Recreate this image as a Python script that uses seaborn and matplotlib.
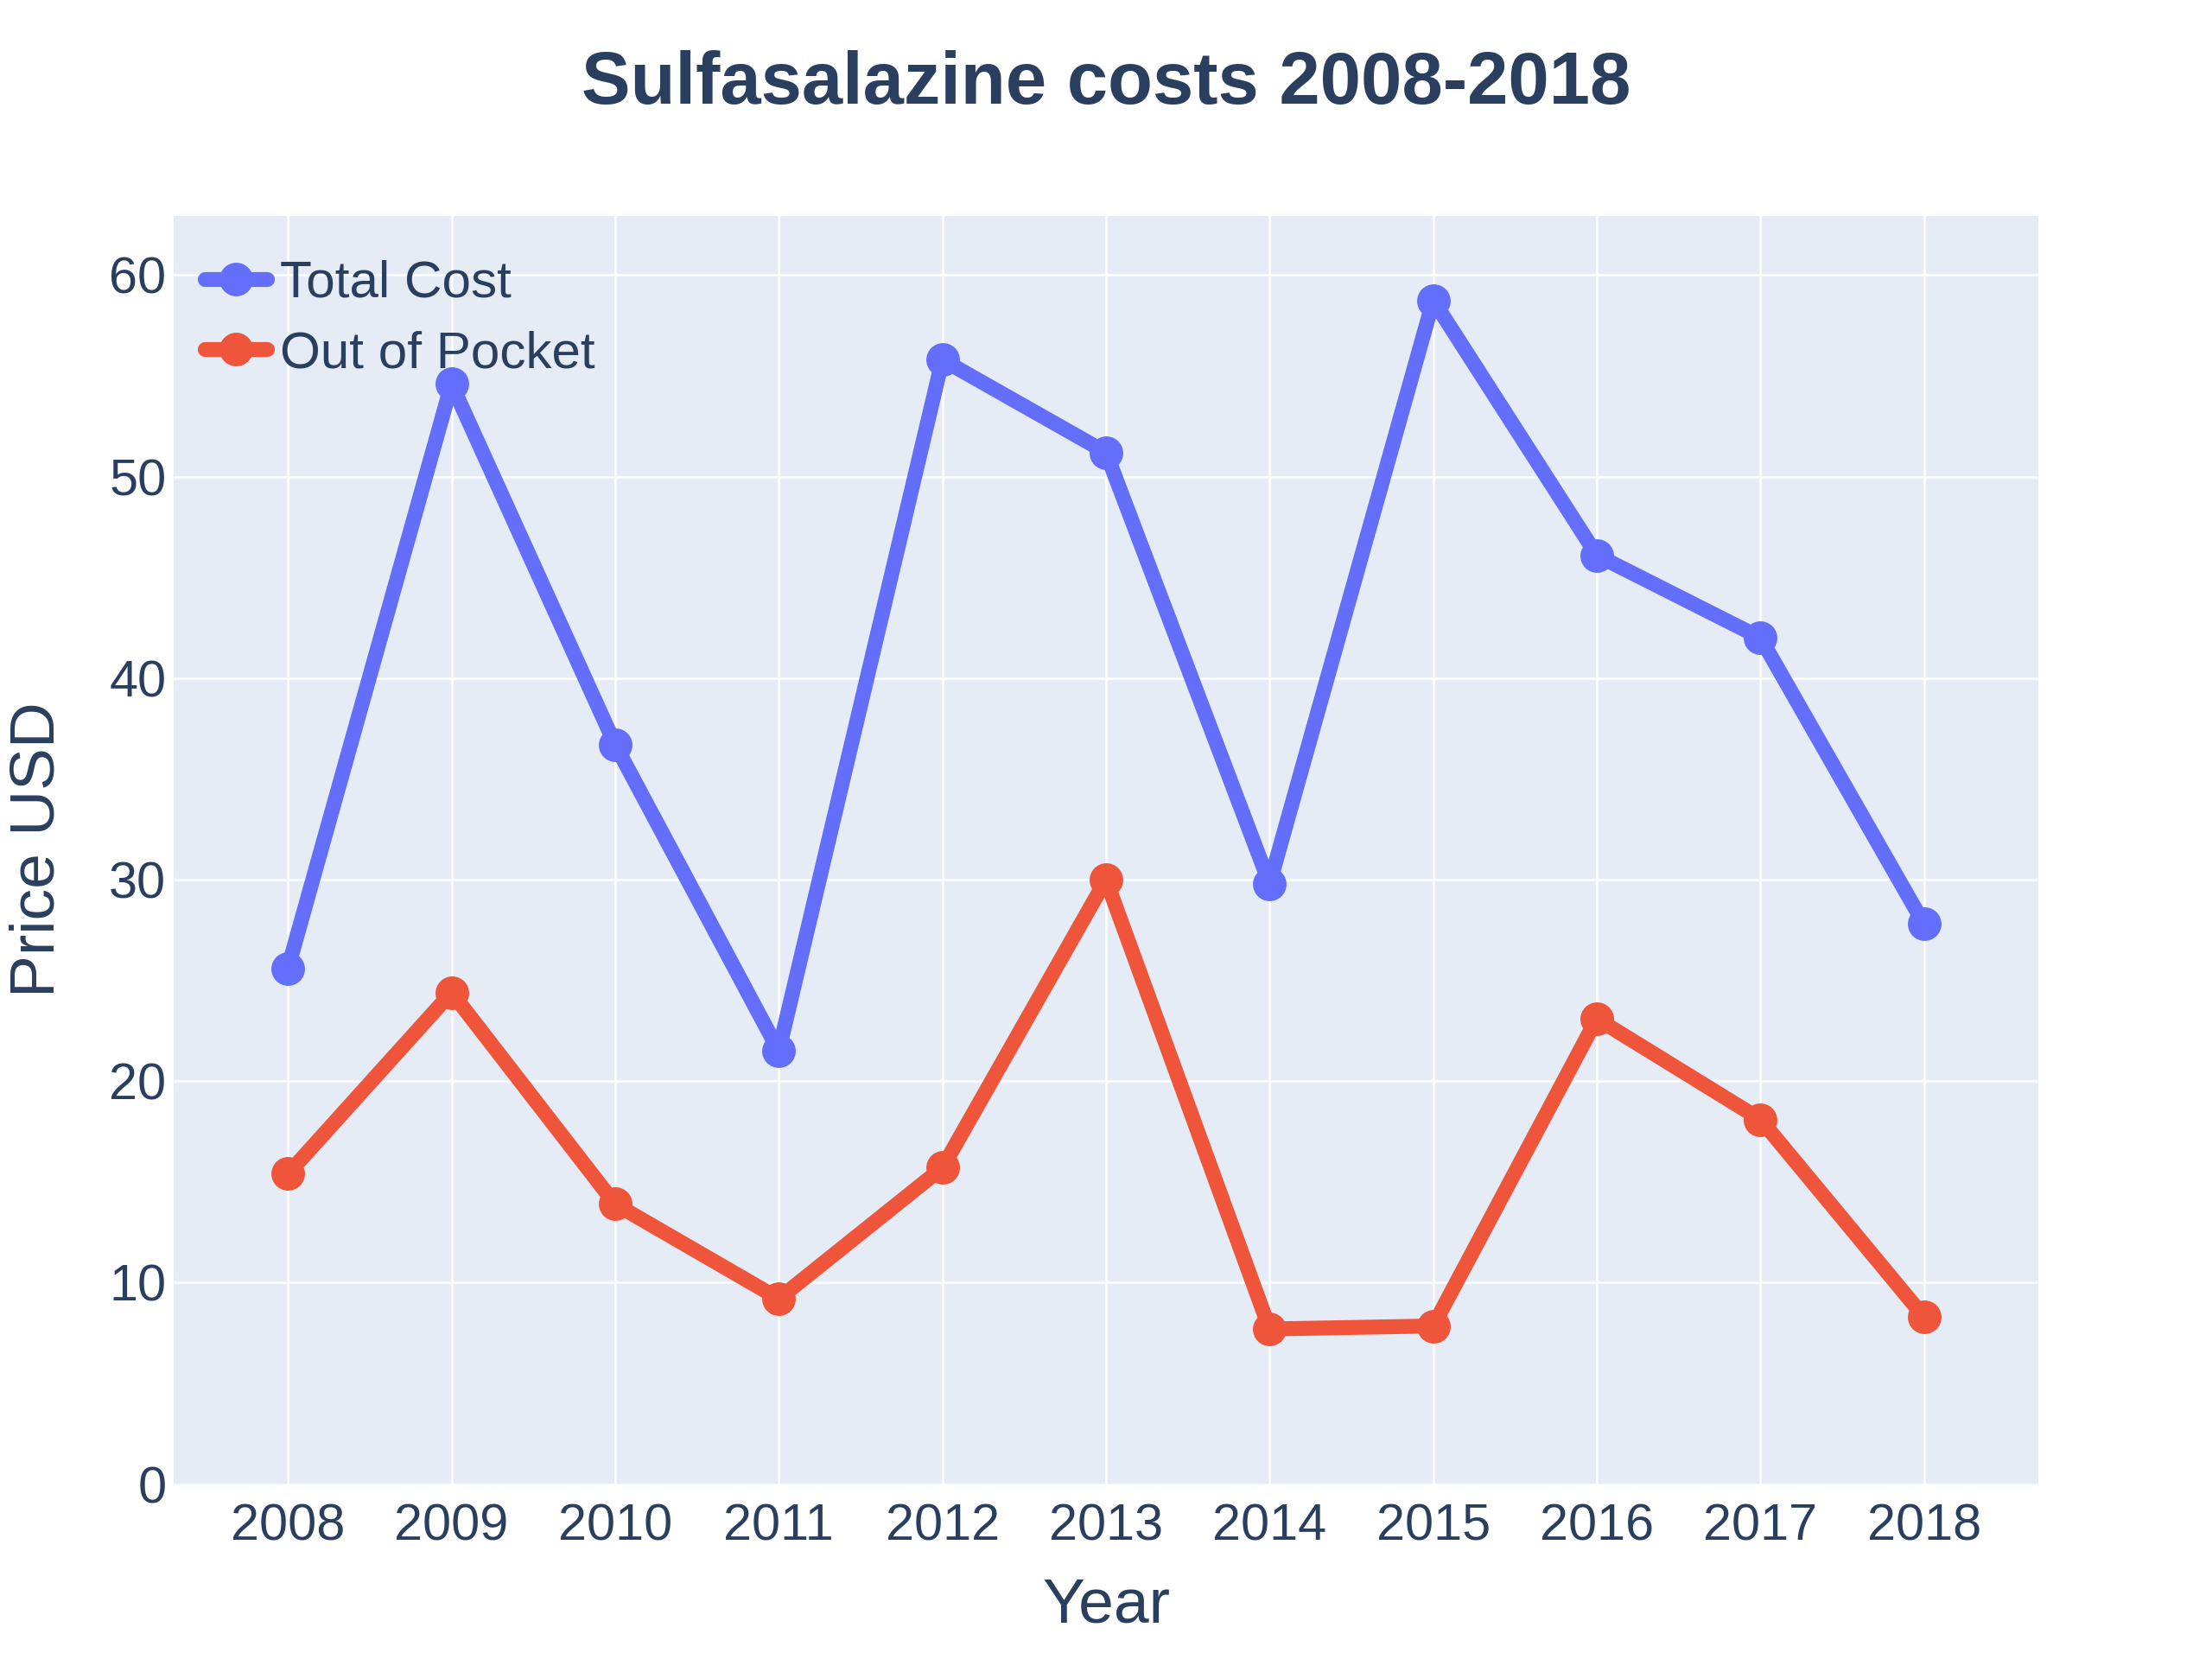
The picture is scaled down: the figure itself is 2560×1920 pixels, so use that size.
import matplotlib.pyplot as plt
import pandas as pd
import seaborn as sns

# Data
years = [2008, 2009, 2010, 2011, 2012, 2013, 2014, 2015, 2016, 2017, 2018]
total_cost = [25.6, 54.6, 36.7, 21.5, 55.8, 51.2, 29.8, 58.75, 46.1, 42.0, 27.8]
out_of_pocket = [15.4, 24.4, 13.9, 9.2, 15.7, 30.0, 7.7, 7.85, 23.1, 18.1, 8.3]
year_labels = [str(y) for y in years]
y_ticks = [0, 10, 20, 30, 40, 50, 60]

text_color = '#2A3F5F'
sns.set_style('darkgrid', {'axes.facecolor': '#E5ECF6', 'grid.color': 'white'})
plt.rcParams['font.family'] = ['Liberation Sans', 'DejaVu Sans']

df = pd.DataFrame({'Year': years, 'Total Cost': total_cost, 'Out of Pocket': out_of_pocket})

fig = plt.figure(figsize=(12.8, 9.6), dpi=200)
ax = fig.add_axes([0.0784, 0.1054, 0.9216 - 0.0784, 0.870 - 0.1054])

sns.lineplot(data=df, x='Year', y='Total Cost', ax=ax, color='#636EFA', lw=6.2,
             marker='o', markersize=14, markeredgewidth=0, label='Total Cost')
sns.lineplot(data=df, x='Year', y='Out of Pocket', ax=ax, color='#EF553B', lw=6.2,
             marker='o', markersize=14, markeredgewidth=0, label='Out of Pocket')

ax.set_xlim(2007.30, 2018.70)
ax.set_ylim(0, 62.95)
ax.set_xticks(years)
ax.set_xticklabels(year_labels)
ax.set_yticks(y_ticks)
ax.grid(True, color='white', lw=0.9)
for s in ax.spines.values():
    s.set_visible(False)
ax.tick_params(axis='both', length=0, labelsize=21.4, colors=text_color)
ax.tick_params(axis='x', pad=8)
ax.tick_params(axis='y', pad=3)

ax.set_xlabel('')
ax.set_ylabel('')
fig.text(0.5, 0.032, 'Year', ha='center', va='center', fontsize=26.4, color=text_color)
fig.text(0.017, 0.4877, 'Price USD', ha='center', va='center', rotation=90,
         fontsize=26.4, color=text_color)
fig.text(0.5, 0.949, 'Sulfasalazine costs 2008-2018', ha='center', va='center',
         fontsize=30.6, fontweight='bold', color=text_color)

leg = ax.legend(loc='upper left', bbox_to_anchor=(0.0166, 0.965), borderaxespad=0,
                borderpad=0, frameon=False, fontsize=21.7, handlelength=1.2,
                handletextpad=0.25, labelspacing=0.44)
for t in leg.get_texts():
    t.set_color(text_color)

fig.savefig('out.png', dpi=200)
